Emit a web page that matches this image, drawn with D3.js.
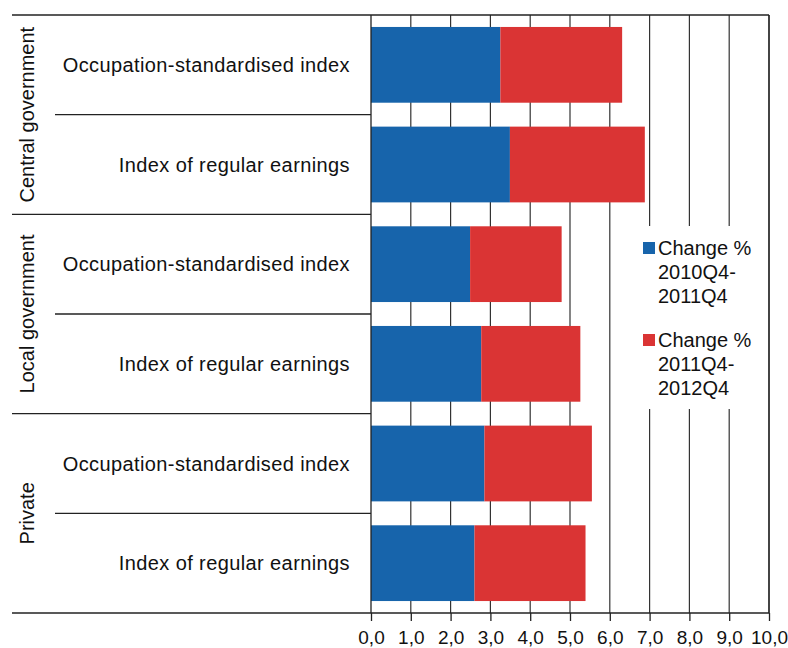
<!DOCTYPE html>
<html>
<head>
<meta charset="utf-8">
<script src="https://cdn.jsdelivr.net/npm/d3@7"></script>
<style>
  body { margin: 0; background: #fff; }
  text { font-family: "Liberation Sans", Arial, sans-serif; fill: #111; }
</style>
</head>
<body>
<div id="chart-area"></div>
<script>
const WIDTH = 788;
const HEIGHT = 648;

// data
const groups = ["Central government", "Local government", "Private"];
const measures = ["Occupation-standardised index", "Index of regular earnings"];
const change2011 = [3.25, 3.49, 2.49, 2.77, 2.85, 2.60];
const change2012 = [3.06, 3.39, 2.30, 2.49, 2.70, 2.79];
const seriesNames = [["Change %", "2010Q4-", "2011Q4"], ["Change %", "2011Q4-", "2012Q4"]];
const xTicks = [0, 1, 2, 3, 4, 5, 6, 7, 8, 9, 10];

const colors = ["#1764ab", "#da3434"];

const rows = [];
groups.forEach((g, gi) => {
  measures.forEach((m, mi) => {
    const i = gi * measures.length + mi;
    rows.push({key: g + "|" + m, group: g, measure: m, a: change2011[i], b: change2012[i]});
  });
});

const svg = d3.select("#chart-area").append("svg")
  .attr("width", WIDTH)
  .attr("height", HEIGHT);

// plot box
const plotLeft = 371, plotRight = 769, plotTop = 15, plotBottom = 613, outerLeft = 12;

// scales
const x = d3.scaleLinear().domain([0, 10]).range([plotLeft, plotRight]);
const y = d3.scaleBand()
  .domain(rows.map(d => d.key))
  .range([plotTop, plotBottom])
  .paddingInner(0.24)
  .paddingOuter(0.12);
const yRow = d3.scaleBand().domain(rows.map(d => d.key)).range([plotTop, plotBottom]);
const yGroup = d3.scaleBand().domain(groups).range([plotTop, plotBottom]);

// gridlines
svg.append("g").selectAll("line")
  .data(xTicks.slice(1))
  .enter().append("line")
    .attr("x1", d => x(d)).attr("x2", d => x(d))
    .attr("y1", plotTop).attr("y2", plotBottom)
    .attr("stroke", "#333")
    .attr("stroke-width", 1.2);

// bars
const bars = svg.append("g");
bars.selectAll("rect.a")
  .data(rows)
  .enter().append("rect")
    .attr("class", "a")
    .attr("x", x(0))
    .attr("y", d => y(d.key))
    .attr("width", d => x(d.a) - x(0))
    .attr("height", y.bandwidth())
    .attr("fill", colors[0]);
bars.selectAll("rect.b")
  .data(rows)
  .enter().append("rect")
    .attr("class", "b")
    .attr("x", d => x(d.a))
    .attr("y", d => y(d.key))
    .attr("width", d => x(d.a + d.b) - x(d.a))
    .attr("height", y.bandwidth())
    .attr("fill", colors[1]);

// frame lines
const frame = svg.append("g").attr("stroke", "#222").attr("stroke-width", 1.3);
frame.append("line").attr("x1", outerLeft).attr("x2", plotRight).attr("y1", plotTop).attr("y2", plotTop);
frame.append("line").attr("x1", outerLeft).attr("x2", plotRight).attr("y1", plotBottom).attr("y2", plotBottom);
frame.append("line").attr("x1", plotLeft).attr("x2", plotLeft).attr("y1", plotTop).attr("y2", plotBottom);
frame.append("line").attr("x1", plotRight).attr("x2", plotRight).attr("y1", plotTop).attr("y2", plotBottom);

// group separators
frame.selectAll("line.grp")
  .data(groups.slice(1))
  .enter().append("line")
    .attr("class", "grp")
    .attr("x1", outerLeft).attr("x2", plotLeft)
    .attr("y1", d => yGroup(d)).attr("y2", d => yGroup(d));

// separators inside a group
frame.selectAll("line.sub")
  .data(rows.filter((d, i) => i % 2 === 1))
  .enter().append("line")
    .attr("class", "sub")
    .attr("x1", 55).attr("x2", plotLeft)
    .attr("y1", d => yRow(d.key)).attr("y2", d => yRow(d.key));

// row labels
svg.append("g").selectAll("text")
  .data(rows)
  .enter().append("text")
    .attr("x", 350)
    .attr("y", d => yRow(d.key) + yRow.bandwidth() / 2)
    .attr("dy", "0.35em")
    .attr("text-anchor", "end")
    .attr("font-size", "20px")
    .attr("letter-spacing", "0.4px")
    .text(d => d.measure);

// group labels
svg.append("g").selectAll("text")
  .data(groups)
  .enter().append("text")
    .attr("transform", d => `translate(34, ${yGroup(d) + yGroup.bandwidth() / 2}) rotate(-90)`)
    .attr("text-anchor", "middle")
    .attr("font-size", "20px")
    .text(d => d);

// x axis
const xAxis = d3.axisBottom(x)
  .tickValues(xTicks)
  .tickSize(8)
  .tickFormat(d => d3.format(".1f")(d).replace(".", ","));
const xAxisGroup = svg.append("g")
  .attr("transform", `translate(0, ${plotBottom})`)
  .call(xAxis);
xAxisGroup.select(".domain").remove();
xAxisGroup.selectAll("line").attr("stroke", "#222").attr("stroke-width", 1.3);
xAxisGroup.selectAll("text")
  .attr("font-size", "19px")
  .attr("font-family", "Liberation Sans, Arial, sans-serif")
  .attr("fill", "#111")
  .attr("y", 18)
  .attr("dy", "0.71em");

// legend
const legend = svg.append("g");
legend.append("rect")
  .attr("x", 614).attr("y", 226)
  .attr("width", 152).attr("height", 183)
  .attr("fill", "#fff");
const items = legend.selectAll("g.item")
  .data(seriesNames)
  .enter().append("g")
    .attr("class", "item")
    .attr("transform", (d, i) => `translate(643, ${242 + i * 92})`);
items.append("rect")
  .attr("width", 12).attr("height", 12)
  .attr("fill", (d, i) => colors[i]);
items.append("text")
  .attr("font-size", "20px")
  .selectAll("tspan")
  .data(d => d)
  .enter().append("tspan")
    .attr("x", 15)
    .attr("y", (d, i) => 13 + i * 24)
    .text(d => d);
</script>
</body>
</html>
